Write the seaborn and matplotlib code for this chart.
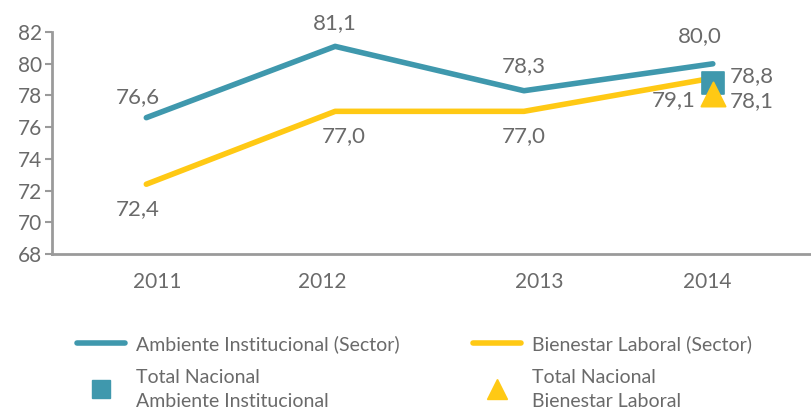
import pandas as pd
import matplotlib.pyplot as plt
import seaborn as sns
from matplotlib.lines import Line2D

years = ['2011', '2012', '2013', '2014']
ambiente = [76.6, 81.1, 78.3, 80.0]
bienestar = [72.4, 77.0, 77.0, 79.1]
total_ambiente = 78.8
total_bienestar = 78.1

teal = '#3f98ad'
yellow = '#ffc914'
grey = '#6a6a6a'

sns.set_style('white')
plt.rcParams['font.family'] = ['Lato', 'DejaVu Sans']

df = pd.DataFrame({'year': years * 2,
                   'value': ambiente + bienestar,
                   'serie': ['Ambiente Institucional (Sector)'] * 4 + ['Bienestar Laboral (Sector)'] * 4})
df['x'] = list(range(4)) * 2

fig = plt.figure(figsize=(8.11, 4.17), dpi=100)
ax = fig.add_axes([0.064, 0.391, 0.936, 0.532])

sns.lineplot(data=df, x='x', y='value', hue='serie', palette=[teal, yellow],
             linewidth=4, ax=ax, legend=False, solid_capstyle='round')

sns.scatterplot(x=[3], y=[total_ambiente], marker='s', s=230, color=teal, edgecolor=teal, ax=ax, zorder=5)
sns.scatterplot(x=[3], y=[total_bienestar], marker='^', s=300, color=yellow, edgecolor=yellow, ax=ax, zorder=6)

lab = dict(fontsize=16, color=grey, ha='center', va='center')
def fmt(v):
    return f'{v:.1f}'.replace('.', ',')

# data labels (offsets in points)
offs_a = [(-6, 15), (0, 17), (0, 18), (-9, 20)]
offs_b = [(-6, -18), (6, -18), (0, -18), (-28, -16)]
for i in range(4):
    ax.annotate(fmt(ambiente[i]), (i, ambiente[i]), xytext=offs_a[i], textcoords='offset points', **lab)
    ax.annotate(fmt(bienestar[i]), (i, bienestar[i]), xytext=offs_b[i], textcoords='offset points', **lab)
ax.annotate(fmt(total_ambiente), (3, total_ambiente), xytext=(28, 5), textcoords='offset points', **lab)
ax.annotate(fmt(total_bienestar), (3, total_bienestar), xytext=(28, -5), textcoords='offset points', **lab)

ax.set_xlim(-0.5, 3.52)
ax.set_ylim(68, 82)
ax.set_yticks(range(68, 83, 2))
ax.set_xticks([-0.5, 0.5, 1.5, 2.5])
ax.set_xticklabels([])
ax.set_xticks([0.06, 0.93, 2.08, 2.97], minor=True)
ax.set_xticklabels(years, minor=True)
ax.tick_params(axis='x', which='major', length=8, width=1.5, color='#9a9a9a', direction='out')
ax.tick_params(axis='x', which='minor', length=0, pad=13, labelsize=15, labelcolor=grey)
ax.tick_params(axis='y', length=5, width=1.5, color='#9a9a9a', labelsize=15, labelcolor=grey, pad=2, left=True)
ax.set_xlabel('')
ax.set_ylabel('')
sns.despine(ax=ax, top=True, right=True)
for s in ['left', 'bottom']:
    ax.spines[s].set_color('#9a9a9a')
    ax.spines[s].set_linewidth(2)

handles = [Line2D([], [], color=teal, lw=4, solid_capstyle='round'),
           Line2D([], [], marker='s', ls='', color=teal, markersize=13),
           Line2D([], [], color=yellow, lw=4, solid_capstyle='round'),
           Line2D([], [], marker='^', ls='', color=yellow, markersize=14)]
labels = ['Ambiente Institucional (Sector)', 'Total Nacional\nAmbiente Institucional',
          'Bienestar Laboral (Sector)', 'Total Nacional\nBienestar Laboral']
leg = fig.legend(handles, labels, ncol=2, loc='upper left', bbox_to_anchor=(0.085, 0.215),
                 frameon=False, fontsize=14, handlelength=2.5, handletextpad=0.55,
                 columnspacing=3.75, labelspacing=0.8, labelcolor=grey, borderaxespad=0)
for t in leg.get_texts():
    t.set_linespacing(1.5)

fig.savefig('out.png', dpi=100)
